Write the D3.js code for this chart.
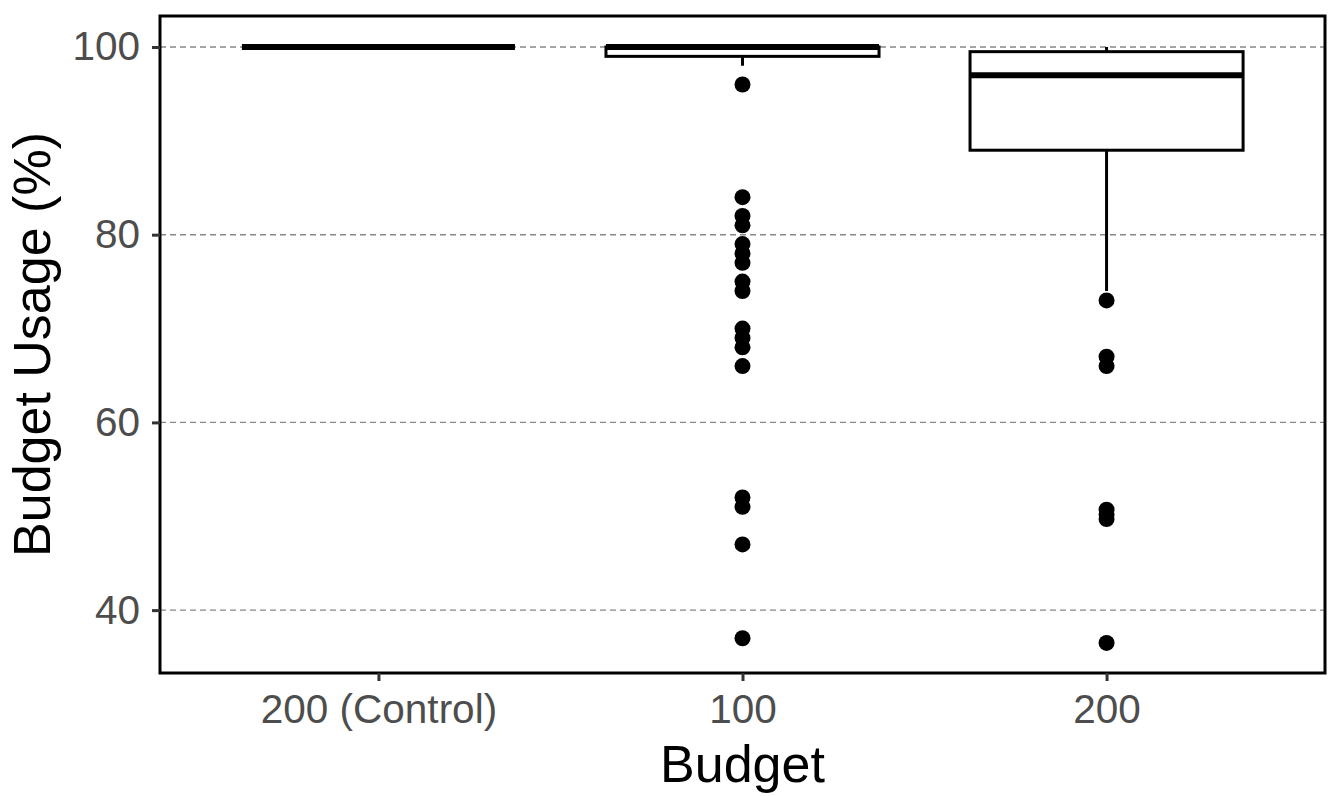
<!DOCTYPE html>
<html>
<head>
<meta charset="utf-8">
<script src="https://cdn.jsdelivr.net/npm/d3@7"></script>
<style>
  body { margin: 0; background: #fff; }
  text { font-family: "Liberation Sans", Arial, Helvetica, sans-serif; }
</style>
</head>
<body>
<div id="chart-area"></div>
<script>
// categories and box statistics
const categories = ['200 (Control)', '100', '200'];
const q1 = [100, 99, 89];
const medians = [100, 100, 97];
const q3 = [100, 100, 99.5];
const whiskerLow = [100, 98, 74];
const whiskerHigh = [100, 100, 100];
const outliers = [
  [],
  [96, 84, 82, 81, 79, 78, 77, 75, 74, 70, 69, 68, 66, 52, 51, 47, 37],
  [73, 67, 66, 50.7, 50.2, 49.7, 36.5]
];
const yTicks = [40, 60, 80, 100];

const W = 1331, H = 796;
const margin = { left: 160, right: 6, top: 16, bottom: 123 };
const width = W - margin.left - margin.right;
const height = H - margin.top - margin.bottom;

const svg = d3.select('#chart-area').append('svg')
  .attr('width', W)
  .attr('height', H);

const g = svg.append('g')
  .attr('transform', `translate(${margin.left}, ${margin.top})`);

// scales
const x = d3.scalePoint()
  .domain(categories)
  .range([0, width])
  .padding(0.6);

const y = d3.scaleLinear()
  .domain([33.3, 103.3])
  .range([height, 0]);

const boxW = x.step() * 0.75;

// gridlines
g.selectAll('.grid')
  .data(yTicks)
  .enter().append('line')
    .attr('class', 'grid')
    .attr('x1', 0)
    .attr('x2', width)
    .attr('y1', d => y(d))
    .attr('y2', d => y(d))
    .attr('stroke', '#888')
    .attr('stroke-width', 1.4)
    .attr('stroke-dasharray', '6,4');

// box data
const boxes = categories.map((c, i) => ({
  cat: c, q1: q1[i], med: medians[i], q3: q3[i],
  lo: whiskerLow[i], hi: whiskerHigh[i], out: outliers[i]
}));

const bg = g.selectAll('.box')
  .data(boxes)
  .enter().append('g')
    .attr('class', 'box');

// whiskers
bg.append('line')
  .attr('x1', d => x(d.cat)).attr('x2', d => x(d.cat))
  .attr('y1', d => y(d.q3)).attr('y2', d => y(d.hi))
  .attr('stroke', '#000').attr('stroke-width', 3);
bg.append('line')
  .attr('x1', d => x(d.cat)).attr('x2', d => x(d.cat))
  .attr('y1', d => y(d.q1)).attr('y2', d => y(d.lo))
  .attr('stroke', '#000').attr('stroke-width', 3);

// box
bg.append('rect')
  .attr('x', d => x(d.cat) - boxW / 2)
  .attr('width', boxW)
  .attr('y', d => y(d.q3))
  .attr('height', d => y(d.q1) - y(d.q3))
  .attr('fill', '#fff')
  .attr('stroke', '#000')
  .attr('stroke-width', 3);

// median
bg.append('line')
  .attr('x1', d => x(d.cat) - boxW / 2)
  .attr('x2', d => x(d.cat) + boxW / 2)
  .attr('y1', d => y(d.med))
  .attr('y2', d => y(d.med))
  .attr('stroke', '#000')
  .attr('stroke-width', 6);

// outliers
bg.selectAll('circle')
  .data(d => d.out.map(v => ({ cat: d.cat, v })))
  .enter().append('circle')
    .attr('cx', d => x(d.cat))
    .attr('cy', d => y(d.v))
    .attr('r', 8)
    .attr('fill', '#000');

// panel border
g.append('rect')
  .attr('x', 0).attr('y', 0)
  .attr('width', width).attr('height', height)
  .attr('fill', 'none')
  .attr('stroke', '#000')
  .attr('stroke-width', 3);

// y axis
const yAxis = g.append('g')
  .call(d3.axisLeft(y).tickValues(yTicks).tickSize(8).tickPadding(12));
yAxis.select('.domain').remove();
yAxis.selectAll('line').attr('stroke', '#333').attr('stroke-width', 3);
yAxis.selectAll('text')
  .attr('fill', '#4d4d4d')
  .attr('font-size', '40.5px');

// x axis
const xAxis = g.append('g')
  .attr('transform', `translate(0, ${height})`)
  .call(d3.axisBottom(x).tickSize(8).tickPadding(13));
xAxis.select('.domain').remove();
xAxis.selectAll('line').attr('stroke', '#333').attr('stroke-width', 3);
xAxis.selectAll('text')
  .attr('fill', '#4d4d4d')
  .attr('font-size', '40.5px');

// axis titles
svg.append('text')
  .attr('x', margin.left + width / 2)
  .attr('y', 782)
  .attr('text-anchor', 'middle')
  .attr('font-size', '52px')
  .attr('fill', '#000')
  .text('Budget');

svg.append('text')
  .attr('transform', `translate(50, ${margin.top + height / 2}) rotate(-90)`)
  .attr('text-anchor', 'middle')
  .attr('font-size', '52px')
  .attr('fill', '#000')
  .text('Budget Usage (%)');
</script>
</body>
</html>
